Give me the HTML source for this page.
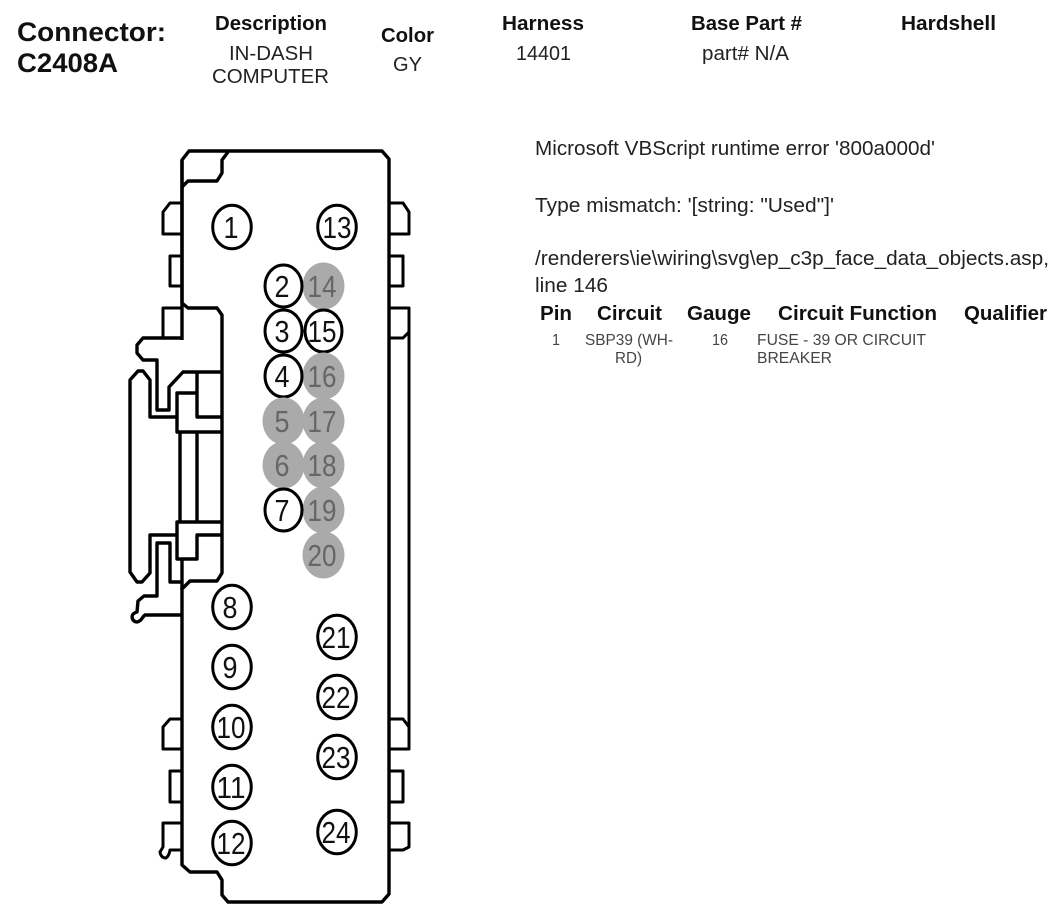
<!DOCTYPE html>
<html>
<head>
<meta charset="utf-8">
<style>
html,body{margin:0;padding:0;background:#fff;width:1060px;height:916px;overflow:hidden}
svg{display:block}
text{font-family:"Liberation Sans",Arial,sans-serif}
.b{font-weight:bold;fill:#111}
.r{fill:#222}
.s{fill:#444;font-size:16px}
.p{font-size:31px;text-anchor:middle}
.o{fill:#fff;stroke:#000;stroke-width:3}
.g{fill:#aaa}
.op{fill:#111}
.gp{fill:#666}
.l{fill:none;stroke:#000;stroke-width:3.4;stroke-linejoin:round}
.lt{fill:none;stroke:#000;stroke-width:3;stroke-linejoin:round}
</style>
</head>
<body>
<svg width="1060" height="916" viewBox="0 0 1060 916" xmlns="http://www.w3.org/2000/svg">
<!-- Header -->
<text class="b" x="17" y="41" font-size="27" textLength="149" lengthAdjust="spacingAndGlyphs">Connector:</text>
<text class="b" x="17" y="72" font-size="27" textLength="101" lengthAdjust="spacingAndGlyphs">C2408A</text>
<text class="b" x="215" y="30" font-size="20" textLength="112" lengthAdjust="spacingAndGlyphs">Description</text>
<text class="r" x="229" y="60" font-size="20" textLength="84" lengthAdjust="spacingAndGlyphs">IN-DASH</text>
<text class="r" x="212" y="83" font-size="20" textLength="117" lengthAdjust="spacingAndGlyphs">COMPUTER</text>
<text class="b" x="381" y="42" font-size="20" textLength="53" lengthAdjust="spacingAndGlyphs">Color</text>
<text class="r" x="393" y="71" font-size="20" textLength="29" lengthAdjust="spacingAndGlyphs">GY</text>
<text class="b" x="502" y="30" font-size="20" textLength="82" lengthAdjust="spacingAndGlyphs">Harness</text>
<text class="r" x="516" y="60" font-size="20" textLength="55" lengthAdjust="spacingAndGlyphs">14401</text>
<text class="b" x="691" y="30" font-size="20" textLength="111" lengthAdjust="spacingAndGlyphs">Base Part #</text>
<text class="r" x="702" y="60" font-size="20" textLength="87" lengthAdjust="spacingAndGlyphs">part# N/A</text>
<text class="b" x="901" y="30" font-size="20" textLength="95" lengthAdjust="spacingAndGlyphs">Hardshell</text>

<!-- Error message -->
<text class="r" x="535" y="155" font-size="20" textLength="400" lengthAdjust="spacingAndGlyphs">Microsoft VBScript runtime error '800a000d'</text>
<text class="r" x="535" y="212" font-size="20" textLength="299" lengthAdjust="spacingAndGlyphs">Type mismatch: '[string: "Used"]'</text>
<text class="r" x="535" y="265" font-size="20" textLength="514" lengthAdjust="spacingAndGlyphs">/renderers\ie\wiring\svg\ep_c3p_face_data_objects.asp,</text>
<text class="r" x="535" y="292" font-size="20" textLength="73" lengthAdjust="spacingAndGlyphs">line 146</text>

<!-- Table -->
<text class="b" x="540" y="320" font-size="20" textLength="32" lengthAdjust="spacingAndGlyphs">Pin</text>
<text class="b" x="597" y="320" font-size="20" textLength="65" lengthAdjust="spacingAndGlyphs">Circuit</text>
<text class="b" x="687" y="320" font-size="20" textLength="64" lengthAdjust="spacingAndGlyphs">Gauge</text>
<text class="b" x="778" y="320" font-size="20" textLength="159" lengthAdjust="spacingAndGlyphs">Circuit Function</text>
<text class="b" x="964" y="320" font-size="20" textLength="83" lengthAdjust="spacingAndGlyphs">Qualifier</text>
<text class="s" x="552" y="345" textLength="8" lengthAdjust="spacingAndGlyphs">1</text>
<text class="s" x="585" y="345" textLength="88" lengthAdjust="spacingAndGlyphs">SBP39 (WH-</text>
<text class="s" x="615" y="363" textLength="27" lengthAdjust="spacingAndGlyphs">RD)</text>
<text class="s" x="712" y="345" textLength="16" lengthAdjust="spacingAndGlyphs">16</text>
<text class="s" x="757" y="345" textLength="169" lengthAdjust="spacingAndGlyphs">FUSE - 39 OR CIRCUIT</text>
<text class="s" x="757" y="363" textLength="75" lengthAdjust="spacingAndGlyphs">BREAKER</text>

<!-- Connector outline -->
<path class="l" d="M182,587 V865 L190,872 H217 L222,880 V895 L228,902 H382 L389,894 V159 L382,151 H189 L182,160 V303 L188,308 H217 L222,315 V573 L217,581 H190 L183,588"/>
<path class="l" d="M182,187 L188,181 H217 L222,173 V160 L228,152"/>
<path class="l" d="M182,160 V340"/>
<path class="l" d="M182,559 V590"/>

<!-- Left tabs -->
<path class="lt" d="M182,203 H170 L163,212 V234 H182"/>
<path class="lt" d="M182,256 H170 V286 H182"/>
<path class="lt" d="M182,308 H163 V338"/>
<path class="lt" d="M182,719 H170 L163,727 V749 H182"/>
<path class="lt" d="M182,771 H170 V802 H182"/>
<path class="lt" d="M182,823 H163 V847 L160,852 Q161,858 166,858 Q169,856 170,850 H182"/>

<!-- Right tabs -->
<path class="lt" d="M389,203 H403 L409,212 V234 H389"/>
<path class="lt" d="M389,256 H403 V286 H389"/>
<path class="lt" d="M389,308 H409 V749 H389"/>
<path class="lt" d="M389,338 H403 L409,332"/>
<path class="lt" d="M389,719 H403 L409,727"/>
<path class="lt" d="M389,771 H403 V802 H389"/>
<path class="lt" d="M389,823 H409 V847 L403,850 H389"/>

<!-- Latch assembly top -->
<path class="l" d="M183,338 H143 L137,345 V353 L143,360 H157 V410 H169 V387 L183,372 H222"/>
<path class="l" d="M197,372 V417 H222"/>
<path class="l" d="M177,417 H150 V380 L143,371 H138 L130,380 V572 L137,582 H142 L150,573 V535 H177"/>
<path class="l" d="M197,393 H177 V432 H222"/>
<path class="l" d="M180,432 V522 M197,432 V522"/>
<!-- Latch assembly bottom -->
<path class="l" d="M222,522 H177 V559 H197 V535 H222"/>
<path class="l" d="M182,582 H170 V543 H157 V596 H144 L138,601 L137,612 Q130,614 133,620 Q138,625 143,617 L145,615 H182"/>

<!-- Pins -->
<ellipse class="o" cx="232" cy="227" rx="19.3" ry="21.8"/><text class="p op" x="231" y="238" textLength="15" lengthAdjust="spacingAndGlyphs">1</text>
<ellipse class="o" cx="337" cy="227" rx="19.3" ry="21.8"/><text class="p op" x="337" y="238" textLength="29" lengthAdjust="spacingAndGlyphs">13</text>
<ellipse class="g" cx="323.5" cy="286" rx="21" ry="23.5"/><text class="p gp" x="322" y="297" textLength="29" lengthAdjust="spacingAndGlyphs">14</text>
<ellipse class="o" cx="283.5" cy="286" rx="18.5" ry="21"/><text class="p op" x="282" y="297" textLength="15" lengthAdjust="spacingAndGlyphs">2</text>
<ellipse class="o" cx="283.5" cy="331" rx="18.5" ry="21"/><text class="p op" x="282" y="342" textLength="15" lengthAdjust="spacingAndGlyphs">3</text>
<ellipse class="o" cx="323.5" cy="331" rx="18.5" ry="21"/><text class="p op" x="322" y="342" textLength="29" lengthAdjust="spacingAndGlyphs">15</text>
<ellipse class="g" cx="323.5" cy="376" rx="21" ry="23.5"/><text class="p gp" x="322" y="387" textLength="29" lengthAdjust="spacingAndGlyphs">16</text>
<ellipse class="o" cx="283.5" cy="376" rx="18.5" ry="21"/><text class="p op" x="282" y="387" textLength="15" lengthAdjust="spacingAndGlyphs">4</text>
<ellipse class="g" cx="283.5" cy="421" rx="21" ry="23.5"/><text class="p gp" x="282" y="432" textLength="15" lengthAdjust="spacingAndGlyphs">5</text>
<ellipse class="g" cx="323.5" cy="421" rx="21" ry="23.5"/><text class="p gp" x="322" y="432" textLength="29" lengthAdjust="spacingAndGlyphs">17</text>
<ellipse class="g" cx="283.5" cy="465" rx="21" ry="23.5"/><text class="p gp" x="282" y="476" textLength="15" lengthAdjust="spacingAndGlyphs">6</text>
<ellipse class="g" cx="323.5" cy="465" rx="21" ry="23.5"/><text class="p gp" x="322" y="476" textLength="29" lengthAdjust="spacingAndGlyphs">18</text>
<ellipse class="g" cx="323.5" cy="510" rx="21" ry="23.5"/><text class="p gp" x="322" y="521" textLength="29" lengthAdjust="spacingAndGlyphs">19</text>
<ellipse class="o" cx="283.5" cy="510" rx="18.5" ry="21"/><text class="p op" x="282" y="521" textLength="15" lengthAdjust="spacingAndGlyphs">7</text>
<ellipse class="g" cx="323.5" cy="555" rx="21" ry="23.5"/><text class="p gp" x="322" y="566" textLength="29" lengthAdjust="spacingAndGlyphs">20</text>
<ellipse class="o" cx="232" cy="607" rx="19.3" ry="21.8"/><text class="p op" x="230" y="618" textLength="15" lengthAdjust="spacingAndGlyphs">8</text>
<ellipse class="o" cx="232" cy="667" rx="19.3" ry="21.8"/><text class="p op" x="230" y="678" textLength="15" lengthAdjust="spacingAndGlyphs">9</text>
<ellipse class="o" cx="232" cy="727" rx="19.3" ry="21.8"/><text class="p op" x="231" y="738" textLength="29" lengthAdjust="spacingAndGlyphs">10</text>
<ellipse class="o" cx="232" cy="787" rx="19.3" ry="21.8"/><text class="p op" x="231" y="798" textLength="29" lengthAdjust="spacingAndGlyphs">11</text>
<ellipse class="o" cx="232" cy="843" rx="19.3" ry="21.8"/><text class="p op" x="231" y="854" textLength="29" lengthAdjust="spacingAndGlyphs">12</text>
<ellipse class="o" cx="337" cy="637" rx="19.3" ry="21.8"/><text class="p op" x="336" y="648" textLength="29" lengthAdjust="spacingAndGlyphs">21</text>
<ellipse class="o" cx="337" cy="697" rx="19.3" ry="21.8"/><text class="p op" x="336" y="708" textLength="29" lengthAdjust="spacingAndGlyphs">22</text>
<ellipse class="o" cx="337" cy="757" rx="19.3" ry="21.8"/><text class="p op" x="336" y="768" textLength="29" lengthAdjust="spacingAndGlyphs">23</text>
<ellipse class="o" cx="337" cy="832" rx="19.3" ry="21.8"/><text class="p op" x="336" y="843" textLength="29" lengthAdjust="spacingAndGlyphs">24</text>
</svg>
</body>
</html>
